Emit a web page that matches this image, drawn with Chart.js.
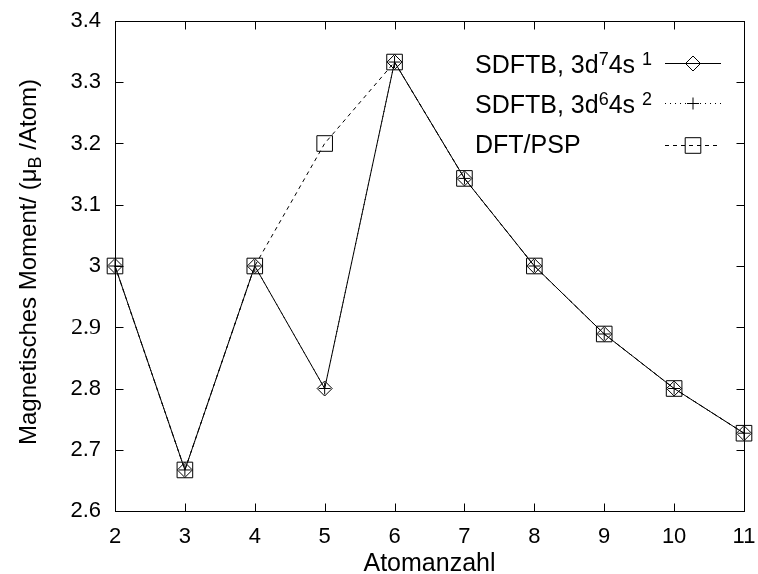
<!DOCTYPE html>
<html><head><meta charset="utf-8">
<script src="https://cdn.jsdelivr.net/npm/chart.js@4.4.1/dist/chart.umd.min.js"></script>
<style>html,body{margin:0;padding:0;background:#fff}#wrap{width:758px;height:574px;position:relative}</style>
</head><body><div id="wrap"><canvas id="c" width="758" height="574"></canvas></div>
<script>
// ---- data ----
const atomCounts = [2, 3, 4, 5, 6, 7, 8, 9, 10, 11];
const sdftb3d7s1 = [3.0, 2.667, 3.0, 2.8, 3.333, 3.143, 3.0, 2.889, 2.8, 2.727];
const sdftb3d6s2 = [3.0, 2.667, 3.0, 2.8, 3.333, 3.143, 3.0, 2.889, 2.8, 2.727];
const dftPsp     = [3.0, 2.667, 3.0, 3.2, 3.333, 3.143, 3.0, 2.889, 2.8, 2.727];
const xTickValues = [2, 3, 4, 5, 6, 7, 8, 9, 10, 11];
const yTickValues = [2.6, 2.7, 2.8, 2.9, 3.0, 3.1, 3.2, 3.3, 3.4];
const xTitle = 'Atomanzahl';
const yTitleParts = [['Magnetisches Moment/ (\u03bc', 0], ['B', -1], [' /Atom)', 0]];
const legendLabels = [
  [['SDFTB, 3d', 0], ['7', 1], ['4s ', 0], ['1', 1]],
  [['SDFTB, 3d', 0], ['6', 1], ['4s ', 0], ['2', 1]],
  [['DFT/PSP', 0]]
];

const FONT = "'Liberation Sans', Arial, Helvetica, sans-serif";
const SERIF = "'Liberation Serif', 'Times New Roman', serif";
const pts = arr => atomCounts.map((x, i) => ({x: x, y: arr[i]}));

function drawMarker(ctx, style, x, y, r) {
  ctx.beginPath();
  if (style === 'diamond') {
    ctx.moveTo(x, y - r); ctx.lineTo(x + r, y); ctx.lineTo(x, y + r); ctx.lineTo(x - r, y); ctx.closePath();
  } else if (style === 'plus') {
    ctx.moveTo(x - r, y); ctx.lineTo(x + r, y); ctx.moveTo(x, y - r); ctx.lineTo(x, y + r);
  } else if (style === 'square') {
    ctx.rect(x - r, y - r, 2 * r, 2 * r);
  }
  ctx.stroke();
}

const markerInfo = [
  {style: 'diamond', r: 7.5, dash: []},
  {style: 'plus', r: 6, dash: [1, 4]},
  {style: 'square', r: 7.8, dash: [4, 4]}
];

const framePlugin = {
  id: 'frame',
  afterDraw(chart) {
    const {ctx, chartArea: a, scales: {x, y}} = chart;
    ctx.save();
    ctx.strokeStyle = '#000';
    ctx.lineWidth = 1;
    ctx.setLineDash([]);
    const L = Math.round(a.left) + 0.5, R = Math.round(a.right) + 0.5;
    const T = Math.round(a.top) + 0.5, B = Math.round(a.bottom) + 0.5;
    ctx.strokeRect(L, T, R - L, B - T);
    const tl = 8;
    ctx.beginPath();
    xTickValues.forEach(v => {
      const px = Math.round(x.getPixelForValue(v)) + 0.5;
      ctx.moveTo(px, B); ctx.lineTo(px, B - tl);
      ctx.moveTo(px, T); ctx.lineTo(px, T + tl);
    });
    yTickValues.forEach(v => {
      const py = Math.round(y.getPixelForValue(v)) + 0.5;
      ctx.moveTo(L, py); ctx.lineTo(L + tl, py);
      ctx.moveTo(R, py); ctx.lineTo(R - tl, py);
    });
    ctx.stroke();

    // markers (unfilled, gnuplot style)
    chart.data.datasets.forEach((ds, i) => {
      const m = markerInfo[i];
      ds.data.forEach(p => {
        drawMarker(ctx, m.style, x.getPixelForValue(p.x), y.getPixelForValue(p.y), m.r);
      });
    });

    // legend
    ctx.fillStyle = '#000';
    ctx.textBaseline = 'alphabetic';
    ctx.textAlign = 'left';
    const rows = [{y: 63, base: 73}, {y: 103, base: 113}, {y: 145, base: 153}];
    legendLabels.forEach((parts, i) => {
      let tx = 475;
      parts.forEach(([t, sup]) => {
        ctx.font = (sup ? '18px ' : '25px ') + FONT;
        ctx.fillText(t, tx, rows[i].base - (sup ? 8 : 0));
        tx += ctx.measureText(t).width;
      });
      const m = markerInfo[i];
      ctx.setLineDash(m.dash);
      ctx.beginPath();
      ctx.moveTo(665, rows[i].y + 0.5); ctx.lineTo(721, rows[i].y + 0.5);
      ctx.stroke();
      ctx.setLineDash([]);
      drawMarker(ctx, m.style, 693, rows[i].y + 0.5, m.r);
    });

    // y title with subscript
    ctx.save();
    ctx.translate(36, (a.top + a.bottom) / 2 - 4);
    ctx.rotate(-Math.PI / 2);
    let total = 0;
    yTitleParts.forEach(([t, s]) => { ctx.font = (s ? '18px ' : '24px ') + FONT; total += ctx.measureText(t).width; });
    let tx = -total / 2;
    yTitleParts.forEach(([t, s]) => {
      ctx.font = (s ? '18px ' : '24px ') + FONT;
      ctx.fillText(t, tx, s < 0 ? 5 : 0);
      tx += ctx.measureText(t).width;
    });
    ctx.restore();
    ctx.restore();
  }
};

const zeroPad = s => { s.paddingLeft = 0; s.paddingRight = 0; s.paddingTop = 0; s.paddingBottom = 0; };

new Chart(document.getElementById('c'), {
  type: 'line',
  data: {
    datasets: [
      {label: 'SDFTB, 3d\u20774s\u00b9', data: pts(sdftb3d7s1), borderColor: '#000', borderWidth: 1, borderDash: [], pointRadius: 0, clip: false},
      {label: 'SDFTB, 3d\u20764s\u00b2', data: pts(sdftb3d6s2), borderColor: '#000', borderWidth: 1, borderDash: [1, 4], pointRadius: 0, clip: false},
      {label: 'DFT/PSP', data: pts(dftPsp), borderColor: '#000', borderWidth: 1, borderDash: [4, 4], pointRadius: 0, clip: false}
    ]
  },
  options: {
    responsive: false,
    animation: false,
    layout: {padding: {top: 21, right: 14, bottom: 0, left: 0}},
    plugins: {legend: {display: false}, tooltip: {enabled: false}},
    elements: {line: {tension: 0, fill: false}},
    scales: {
      x: {
        type: 'linear', min: 2, max: 11,
        afterBuildTicks: s => { s.ticks = xTickValues.map(v => ({value: v})); },
        afterFit: s => { s.height = 63; zeroPad(s); },
        grid: {display: false, drawTicks: false},
        border: {display: false},
        ticks: {color: '#000', padding: 13, font: {family: FONT, size: 22}, maxRotation: 0, autoSkip: false},
        title: {display: true, text: xTitle, color: '#000', font: {family: FONT, size: 25, lineHeight: 1}, padding: {top: 0, bottom: -3}}
      },
      y: {
        type: 'linear', min: 2.6, max: 3.4,
        afterBuildTicks: s => { s.ticks = yTickValues.map(v => ({value: v})); },
        afterFit: s => { s.width = 115; zeroPad(s); },
        grid: {display: false, drawTicks: false},
        border: {display: false},
        ticks: {
          color: '#000', padding: 14, autoSkip: false,
          font: c => ((c.tick && Math.abs(c.tick.value - 2.9) < 1e-6) ? {family: SERIF, size: 24} : {family: FONT, size: 22}),
          callback: v => String(Math.round(v * 10) / 10)
        }
      }
    }
  },
  plugins: [framePlugin]
});
</script></body></html>
